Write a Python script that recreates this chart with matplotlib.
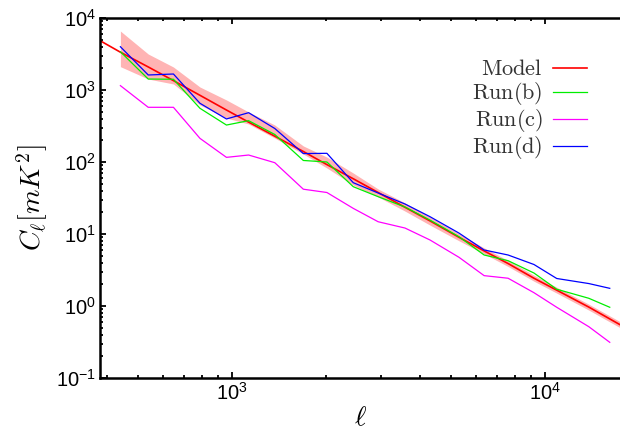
import matplotlib
matplotlib.use("Agg")
import matplotlib.pyplot as plt

plt.rcParams["font.family"] = ["Liberation Sans", "DejaVu Sans"]
plt.rcParams["mathtext.fontset"] = "cm"

# multipole bins
ell = [440, 540, 650, 790, 960, 1130, 1370, 1690, 2010, 2440,
       2930, 3570, 4290, 5310, 6390, 7620, 9220, 10900, 13800, 16100]

# model curve: straight power law, sampled from edge to edge
ell_model = [379, 440, 540, 650, 790, 960, 1130, 1370, 1690, 2010, 2440,
             2930, 3570, 4290, 5310, 6390, 7620, 9220, 10900, 13800, 17360]
model = [4840, 3350, 2090, 1350, 844, 527, 358, 228, 140, 92, 58.5,
         37.7, 23.5, 15.2, 9.0, 5.82, 3.89, 2.43, 1.66, 0.966, 0.55]

# shaded band around the model (starts at the first bin)
ell_band = ell[:-1] + [17360]
band_hi = [6590, 3160, 2085, 1100, 727, 495, 326, 167, 117, 70.3,
           42.2, 27.0, 17.2, 10.07, 6.41, 4.29, 2.68, 1.82, 1.06, 0.607]
band_lo = [2110, 1420, 1212, 619, 408, 337, 215, 129, 82.5, 48.0,
           32.7, 20.8, 13.3, 8.05, 5.30, 3.54, 2.21, 1.51, 0.877, 0.501]

run_b = [3400, 1420, 1410, 557, 326, 375, 241, 105, 100, 45.4,
         33.0, 23.7, 15.6, 9.17, 5.11, 4.26, 2.87, 1.71, 1.28, 0.96]
run_c = [1150, 575, 575, 213, 116, 125, 97.8, 41.9, 37.7, 22.7,
         14.8, 12.1, 8.26, 4.75, 2.64, 2.43, 1.53, 0.96, 0.516, 0.313]
run_d = [3990, 1616, 1668, 654, 396, 484, 292, 131, 132, 51.6,
         37.1, 26.1, 17.4, 10.3, 6.0, 5.11, 3.77, 2.41, 2.05, 1.76]

fig = plt.figure(figsize=(6.2, 4.34), dpi=100)
ax = fig.add_axes([100 / 620, 56 / 434, 520 / 620, 360 / 434])

ax.fill_between(ell_band, band_lo, band_hi, color="#ffb4b4", lw=0)
ax.plot(ell_model, model, color="#ff0000", lw=1.2, label=r"$\mathrm{Model}$")
ax.plot(ell, run_b, color="#00ee00", lw=0.9, label=r"$\mathrm{Run(b)}$")
ax.plot(ell, run_c, color="#ff00ff", lw=0.9, label=r"$\mathrm{Run(c)}$")
ax.plot(ell, run_d, color="#0000ff", lw=0.9, label=r"$\mathrm{Run(d)}$")

ax.set_xscale("log")
ax.set_yscale("log")
ax.set_xlim(378.7, 17360)
ax.set_ylim(0.1, 1e4)

for side in ["left", "bottom", "top"]:
    ax.spines[side].set_linewidth(1.8)
ax.spines["right"].set_visible(False)
ax.tick_params(which="both", direction="in", top=True, right=False,
               width=1.3, labelsize=14.5, pad=3)
ax.tick_params(which="major", length=4)
ax.tick_params(which="minor", length=2)

ax.set_xlabel(r"$\ell$", fontsize=20, labelpad=1)
ax.set_ylabel(r"$C_\ell[mK^2]$", fontsize=20, labelpad=4)

leg = ax.legend(loc="upper right", bbox_to_anchor=(0.937, 0.885),
                frameon=False, markerfirst=False, fontsize=16,
                handlelength=1.55, handletextpad=0.45, labelspacing=0.0,
                borderpad=0, borderaxespad=0)
for t in leg.get_texts():
    t.set_color("#333333")

fig.savefig("out.png", dpi=100)
